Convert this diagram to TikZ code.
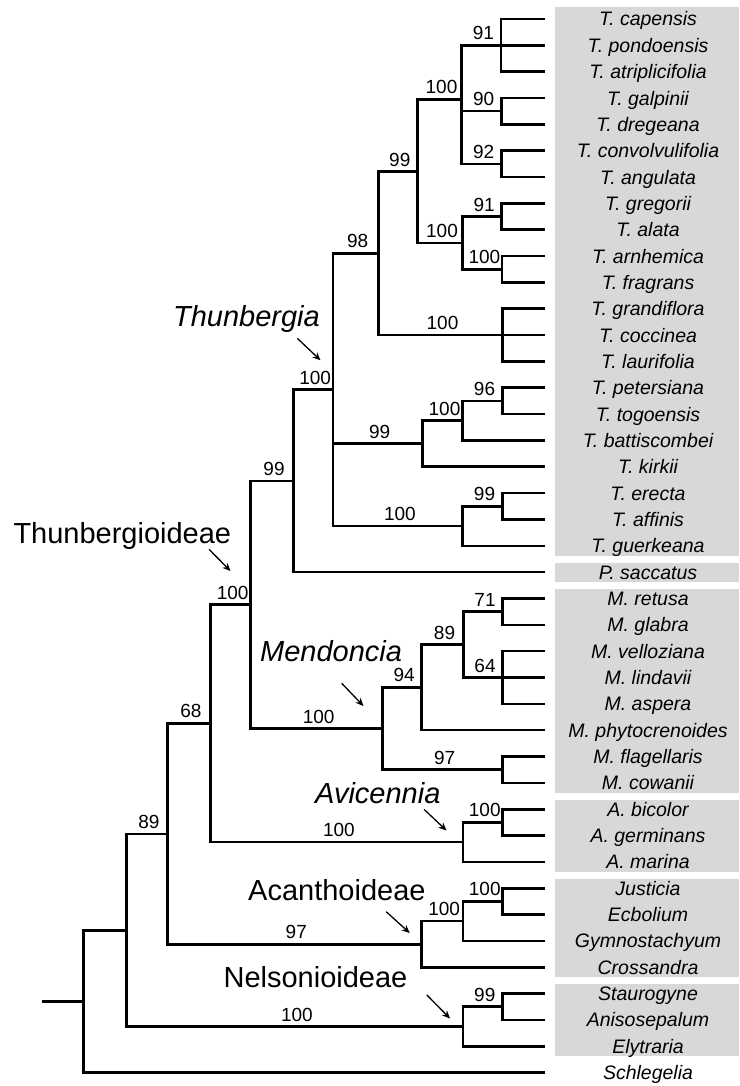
\documentclass[tikz,border=0pt]{standalone}
\usepackage{fontspec}
\setmainfont{Liberation Sans}
\usetikzlibrary{arrows.meta,calc}
\definecolor{boxgray}{RGB}{216,216,216}
\begin{document}
\begin{tikzpicture}[x=1pt,y=-1pt,
  br/.style={line width=2.6pt},
  bs/.style={midway, anchor=base, yshift=5.5pt, xshift=2pt, inner sep=0pt, font=\fontsize{19}{22}\selectfont},
  taxon/.style={font=\fontsize{19.5}{23}\selectfont\itshape, inner sep=0pt, anchor=base},
  clade/.style={font=\fontsize{29}{34}\selectfont, inner sep=0pt},
  pointer/.style={line width=1.3pt, -{Stealth[length=8pt,width=7pt]}}]
\useasboundingbox (0,0) rectangle (739,1086);
\fill[white] (0,0) rectangle (739,1086);

% grey boxes
\fill[boxgray] (555,6.7) rectangle (739,555.5);
\fill[boxgray] (555,562.5) rectangle (739,581.8);
\fill[boxgray] (555,588.8) rectangle (739,792.5);
\fill[boxgray] (555,799.5) rectangle (739,871.5);
\fill[boxgray] (555,878.5) rectangle (739,976.9);
\fill[boxgray] (555,983.9) rectangle (739,1055.9);

% leaves
\foreach \i/\name in {0/T. capensis, 1/T. pondoensis, 2/T. atriplicifolia, 3/T. galpinii, 4/T. dregeana,
  5/T. convolvulifolia, 6/T. angulata, 7/T. gregorii, 8/T. alata, 9/T. arnhemica, 10/T. fragrans,
  11/T. grandiflora, 12/T. coccinea, 13/T. laurifolia, 14/T. petersiana, 15/T. togoensis,
  16/T. battiscombei, 17/T. kirkii, 18/T. erecta, 19/T. affinis, 20/T. guerkeana, 21/P. saccatus,
  22/M. retusa, 23/M. glabra, 24/M. velloziana, 25/M. lindavii, 26/M. aspera, 27/M. phytocrenoides,
  28/M. flagellaris, 29/M. cowanii, 30/A. bicolor, 31/A. germinans, 32/A. marina, 33/Justicia,
  34/Ecbolium, 35/Gymnostachyum, 36/Crossandra, 37/Staurogyne, 38/Anisosepalum, 39/Elytraria,
  40/Schlegelia} {
  \coordinate (l\i) at (545,{19+26.34*\i});
  \node[taxon] (t\i) at (648,{26+26.34*\i}) {\name};
}

% internal nodes
\coordinate (a1) at (501,45.34);
\coordinate (a2) at (501.5,111.19);
\coordinate (a3) at (501.5,163.87);
\coordinate (a4) at (461.7,99.5);
\coordinate (a5) at (501.5,216.55);
\coordinate (a6) at (502,269.23);
\coordinate (a7) at (462.7,242.89);
\coordinate (a8) at (417.3,171.7);
\coordinate (a9) at (502.7,335.08);
\coordinate (a10) at (378.3,253.4);
\coordinate (b1) at (502.3,400.93);
\coordinate (b2) at (462.7,420.69);
\coordinate (b3) at (422.3,443.73);
\coordinate (c1) at (502.3,506.29);
\coordinate (c2) at (462.7,526.05);
\coordinate (th) at (333,389.7);
\coordinate (d1) at (293.3,480.9);
\coordinate (m1) at (502.7,611.65);
\coordinate (m2) at (502.7,677.5);
\coordinate (m3) at (463.3,644.6);
\coordinate (m4) at (421.7,687.4);
\coordinate (m5) at (502.7,769.69);
\coordinate (m6) at (382.7,728.5);
\coordinate (e1) at (250.7,604.7);
\coordinate (v1) at (502.5,822.37);
\coordinate (v2) at (463,842.1);
\coordinate (f1) at (210.7,723.4);
\coordinate (j1) at (502.5,901.39);
\coordinate (j2) at (463,921.1);
\coordinate (j3) at (421.2,944.2);
\coordinate (g1) at (167.3,833.8);
\coordinate (s1) at (502.5,1006.75);
\coordinate (s2) at (463,1026.5);
\coordinate (h1) at (126.7,930.2);
\coordinate (r) at (83.3,1001.4);
\coordinate (r0) at (41.7,1001.4);

% branches
\foreach \p/\c in {a1/l0,a1/l1,a1/l2,a2/l3,a2/l4,a3/l5,a3/l6,a4/a1,a4/a2,a4/a3,
  a5/l7,a5/l8,a6/l9,a6/l10,a7/a5,a7/a6,a8/a4,a8/a7,a9/l11,a9/l12,a9/l13,a10/a8,a10/a9,
  b1/l14,b1/l15,b2/b1,b2/l16,b3/b2,b3/l17,c1/l18,c1/l19,c2/c1,c2/l20,
  th/a10,th/b3,th/c2,d1/th,d1/l21,
  m1/l22,m1/l23,m2/l24,m2/l25,m2/l26,m3/m1,m3/m2,m4/m3,m4/l27,m5/l28,m5/l29,m6/m4,m6/m5,
  e1/d1,e1/m6,v1/l30,v1/l31,v2/v1,v2/l32,f1/e1,f1/v2,
  j1/l33,j1/l34,j2/j1,j2/l35,j3/j2,j3/l36,g1/f1,g1/j3,
  s1/l37,s1/l38,s2/s1,s2/l39,h1/g1,h1/s2,r/h1,r/l40}
  \draw[br] (\p) |- (\c);
\draw[br] (r0) -- (r);

% support values
\foreach \p/\c/\v in {a4/a1/91,a4/a2/90,a4/a3/92,a8/a4/100,a7/a5/91,a7/a6/100,a8/a7/100,
  a10/a8/99,a10/a9/100,th/a10/98,b2/b1/96,b3/b2/100,th/b3/99,c2/c1/99,th/c2/100,
  d1/th/100,e1/d1/99,m3/m1/71,m3/m2/64,m4/m3/89,m6/m4/94,m6/m5/97,e1/m6/100,
  f1/e1/100,v2/v1/100,f1/v2/100,g1/f1/68,j2/j1/100,j3/j2/100,g1/j3/97,
  s2/s1/99,h1/s2/100,h1/g1/89}
  \path (\p |- \c) -- (\c) node[bs] {\v};

% clade labels and pointers
\node[clade, font=\fontsize{29}{34}\selectfont\itshape, anchor=base east] (Lth) at (320,326.7) {Thunbergia};
\coordinate (thA) at (297.3,338.3); \coordinate (thB) at (320.5,360.3);
\draw[pointer] (thA) -- (thB);

\node[clade, anchor=base west] (Ltd) at (13.3,543.3) {Thunbergioideae};
\coordinate (tdA) at (209,549.3); \coordinate (tdB) at (230.5,571);
\draw[pointer] (tdA) -- (tdB);

\node[clade, font=\fontsize{29}{34}\selectfont\itshape, anchor=base west] (Lme) at (260,661.7) {Mendoncia};
\coordinate (meA) at (341.7,683.3); \coordinate (meB) at (363.5,706);
\draw[pointer] (meA) -- (meB);

\node[clade, font=\fontsize{29}{34}\selectfont\itshape, anchor=base west] (Lav) at (315,803.3) {Avicennia};
\coordinate (avA) at (424,809.3); \coordinate (avB) at (446.5,830.5);
\draw[pointer] (avA) -- (avB);

\node[clade, anchor=base west] (Lac) at (248,900.7) {Acanthoideae};
\coordinate (acA) at (386.2,911.7); \coordinate (acB) at (409.7,933);
\draw[pointer] (acA) -- (acB);

\node[clade, anchor=base west] (Lne) at (223.4,987.3) {Nelsonioideae};
\coordinate (neA) at (426.9,995); \coordinate (neB) at (450,1018.5);
\draw[pointer] (neA) -- (neB);
\end{tikzpicture}
\end{document}
